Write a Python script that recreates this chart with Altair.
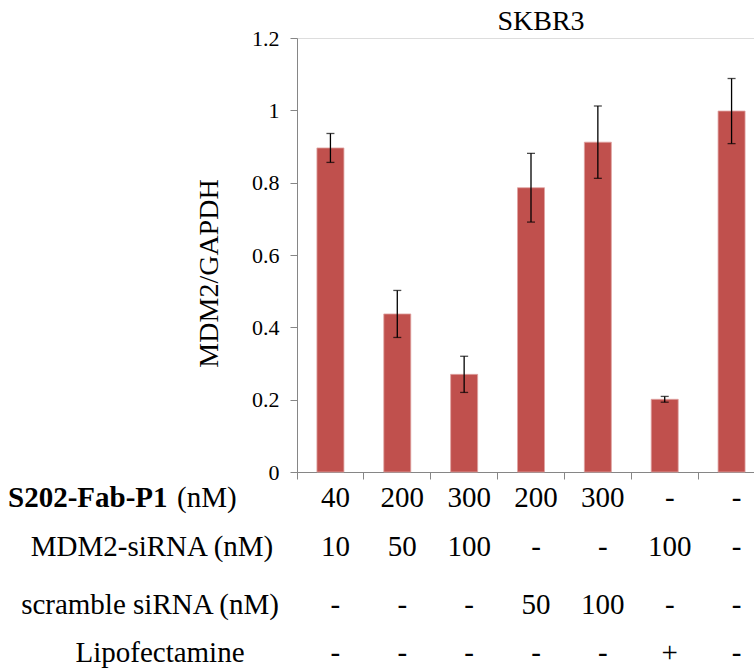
import altair as alt
import pandas as pd

# ---- data ----
conds = ["A", "B", "C", "D", "E", "F", "G"]
values = [0.896, 0.437, 0.270, 0.786, 0.912, 0.201, 0.998]
errors = [0.040, 0.065, 0.050, 0.095, 0.100, 0.008, 0.090]

s202 = ["40", "200", "300", "200", "300", "-", "-"]
mdm2 = ["10", "50", "100", "-", "-", "100", "-"]
scramble = ["-", "-", "-", "50", "100", "-", "-"]
lipo = ["-", "-", "-", "-", "-", "+", "-"]

row_names = ["S202-Fab-P1", "MDM2-siRNA (nM)", "scramble siRNA (nM)", "Lipofectamine"]
y_ticks = [0, 0.2, 0.4, 0.6, 0.8, 1.0, 1.2]
title_text = "SKBR3"
y_title = "MDM2/GAPDH"

FONT = "Liberation Serif"
GRAY = "#868686"
BAR = "#C0504D"

df = pd.DataFrame({"cond": conds, "value": values, "err": errors})

xscale = alt.Scale(domain=conds, range=[0, 468], paddingInner=0, paddingOuter=0)
xenc = alt.X(
    "cond:N",
    sort=conds,
    scale=xscale,
    axis=alt.Axis(
        title=None, labels=False, bandPosition=0, tickSize=7,
        domainColor=GRAY, tickColor=GRAY, grid=False,
    ),
)
yscale = alt.Scale(domain=[0, 1.2], nice=False)
yaxis = alt.Axis(
    values=y_ticks, format="~g", title=y_title, grid=False,
    tickSize=7, labelPadding=11,
    titleX=-80, titleY=235, titleAngle=270, titleAlign="center",
    titleBaseline="alphabetic",
    domainColor=GRAY, tickColor=GRAY,
    labelFont=FONT, labelFontSize=22, labelColor="black",
    titleFont=FONT, titleFontSize=28, titleFontWeight="normal", titleColor="black",
)

base = alt.Chart(df).transform_calculate(
    lo="datum.value - datum.err", hi="datum.value + datum.err"
)

bars = base.mark_bar(size=27, color=BAR, stroke="#DFA3A2", strokeWidth=0.8).encode(
    x=xenc, y=alt.Y("value:Q", scale=yscale, axis=yaxis)
)
rules = base.mark_rule(color="black", strokeWidth=1.3).encode(
    x=xenc, y=alt.Y("lo:Q", scale=yscale, axis=yaxis), y2="hi:Q"
)
cap_lo = base.mark_tick(color="black", size=8, thickness=1.3).encode(
    x=xenc, y=alt.Y("lo:Q", scale=yscale, axis=yaxis)
)
cap_hi = base.mark_tick(color="black", size=8, thickness=1.3).encode(
    x=xenc, y=alt.Y("hi:Q", scale=yscale, axis=yaxis)
)

# ---- title ----
title = alt.Chart(pd.DataFrame({"t": [title_text]})).mark_text(
    font=FONT, fontSize=28, baseline="alphabetic", align="center", color="black"
).encode(x=alt.value(244), y=alt.value(-8), text="t:N")

# ---- table below the chart ----
def row_values(vals, ypx):
    d = pd.DataFrame({"cond": conds, "txt": vals})
    return alt.Chart(d).mark_text(
        font=FONT, fontSize=29, baseline="alphabetic", align="center", color="black", dx=5
    ).encode(x=xenc, y=alt.value(ypx), text="txt:N")

def row_label(txt, xpx, ypx, align="center", weight="normal"):
    d = pd.DataFrame({"t": [txt]})
    return alt.Chart(d).mark_text(
        font=FONT, fontSize=29, baseline="alphabetic", align=align,
        fontWeight=weight, color="black"
    ).encode(x=alt.value(xpx), y=alt.value(ypx), text="t:N")

row_y = [469, 518, 576, 624]
layers = [
    bars, rules, cap_lo, cap_hi, title,
    row_values(s202, row_y[0]),
    row_values(mdm2, row_y[1]),
    row_values(scramble, row_y[2]),
    row_values(lipo, row_y[3]),
    row_label(row_names[0], -289, row_y[0], align="left", weight="bold"),
    row_label("(nM)", -120, row_y[0], align="left"),
    row_label(row_names[1], -145, row_y[1]),
    row_label(row_names[2], -147, row_y[2]),
    row_label(row_names[3], -137, row_y[3]),
]

chart = alt.layer(*layers).properties(
    width=457,
    height=434,
    autosize=alt.AutoSizeParams(type="none"),
    padding={"left": 297, "top": 38, "right": 0, "bottom": 196},
).configure_view(stroke=None).configure(background="white")

chart.save("out.html", embed_options={"renderer": "svg", "actions": False})
